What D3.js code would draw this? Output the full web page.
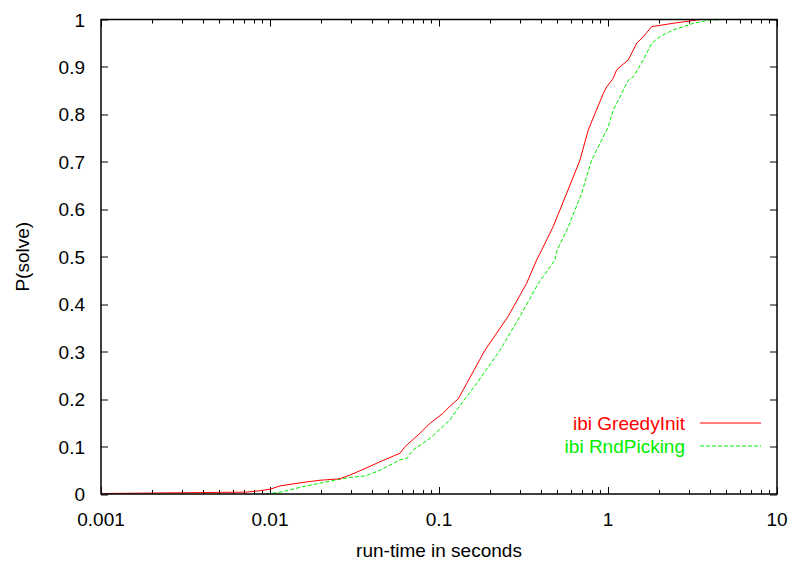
<!DOCTYPE html>
<html>
<head>
<meta charset="utf-8">
<script src="https://cdn.jsdelivr.net/npm/d3@7"></script>
<style>
  body { margin: 0; background: #fff; }
  text { font-family: "Liberation Sans", Arial, sans-serif; }
</style>
</head>
<body>
<div class="svg-container"></div>
<script>
// series data (run-time in seconds, P(solve))
const greedyTime = [0.001, 0.00386, 0.00731, 0.00873, 0.01, 0.01146, 0.0161, 0.0198, 0.0259, 0.0297, 0.0341, 0.0448, 0.0588, 0.063, 0.0772, 0.0885, 0.1056, 0.116, 0.1296, 0.1459, 0.187, 0.256, 0.330, 0.378, 0.405, 0.473, 0.570, 0.683, 0.764, 0.838, 0.938, 0.982, 1.074, 1.125, 1.318, 1.479, 1.618, 1.815, 2.43, 3.35, 3.60];
const greedyP = [0.001, 0.003, 0.004, 0.007, 0.010, 0.017, 0.025, 0.029, 0.032, 0.040, 0.049, 0.068, 0.086, 0.100, 0.128, 0.149, 0.170, 0.185, 0.200, 0.233, 0.303, 0.374, 0.444, 0.493, 0.514, 0.563, 0.634, 0.704, 0.767, 0.802, 0.844, 0.858, 0.876, 0.894, 0.915, 0.950, 0.964, 0.985, 0.992, 0.999, 1.0];

const rndTime = [0.00955, 0.01194, 0.01506, 0.0198, 0.0297, 0.0365, 0.0448, 0.0513, 0.0588, 0.0644, 0.0702, 0.0885, 0.1014, 0.116, 0.1273, 0.167, 0.2296, 0.301, 0.387, 0.485, 0.50, 0.582, 0.699, 0.801, 1.004, 1.074, 1.151, 1.318, 1.413, 1.618, 1.815, 2.03, 2.43, 3.20, 4.02, 4.92];
const rndP = [0.0, 0.005, 0.014, 0.023, 0.035, 0.038, 0.050, 0.061, 0.072, 0.075, 0.093, 0.117, 0.137, 0.156, 0.177, 0.233, 0.303, 0.374, 0.444, 0.493, 0.514, 0.563, 0.634, 0.704, 0.774, 0.809, 0.830, 0.872, 0.879, 0.915, 0.950, 0.964, 0.978, 0.992, 0.999, 1.0];

const seriesNames = ['ibi GreedyInit', 'ibi RndPicking'];
const seriesColors = ['#ff0000', '#00ee00'];
const xTickValues = [0.001, 0.01, 0.1, 1, 10];
const xTickLabels = ['0.001', '0.01', '0.1', '1', '10'];
const yTickValues = [0, 0.1, 0.2, 0.3, 0.4, 0.5, 0.6, 0.7, 0.8, 0.9, 1];
const yTickLabels = ['0', '0.1', '0.2', '0.3', '0.4', '0.5', '0.6', '0.7', '0.8', '0.9', '1'];

const width = 792;
const height = 565;
const margin = { top: 19.5, right: 15, bottom: 71, left: 101 };
const plotW = width - margin.left - margin.right;
const plotH = height - margin.top - margin.bottom;

const svg = d3.select('.svg-container')
  .append('svg')
  .attr('width', width)
  .attr('height', height);

const g = svg.append('g')
  .attr('transform', `translate(${margin.left},${margin.top})`);

const x = d3.scaleLog().domain([0.001, 10]).range([0, plotW]);
const y = d3.scaleLinear().domain([0, 1]).range([plotH, 0]);

// minor ticks for log axis
const minorX = [];
[0.001, 0.01, 0.1, 1].forEach(d => {
  for (let k = 2; k <= 9; k++) minorX.push(d * k);
});

const majorLen = 7;
const minorLen = 4;

// inward ticks on all four sides
const tickG = g.append('g').attr('stroke', '#000').attr('stroke-width', 1);
xTickValues.forEach(v => {
  const px = Math.round(x(v)) + 0.5;
  tickG.append('line').attr('x1', px).attr('x2', px).attr('y1', plotH).attr('y2', plotH - majorLen);
  tickG.append('line').attr('x1', px).attr('x2', px).attr('y1', 0).attr('y2', majorLen);
});
minorX.forEach(v => {
  const px = Math.round(x(v)) + 0.5;
  tickG.append('line').attr('x1', px).attr('x2', px).attr('y1', plotH).attr('y2', plotH - minorLen);
  tickG.append('line').attr('x1', px).attr('x2', px).attr('y1', 0).attr('y2', minorLen);
});
yTickValues.forEach(v => {
  const py = Math.round(y(v)) + 0.5;
  tickG.append('line').attr('x1', 0).attr('x2', majorLen).attr('y1', py).attr('y2', py);
  tickG.append('line').attr('x1', plotW).attr('x2', plotW - majorLen).attr('y1', py).attr('y2', py);
});

// tick labels
g.selectAll('.xlabel')
  .data(xTickValues)
  .enter()
  .append('text')
  .attr('class', 'xlabel')
  .attr('x', d => x(d))
  .attr('y', plotH + 32)
  .attr('text-anchor', 'middle')
  .attr('font-size', 19)
  .text((d, i) => xTickLabels[i]);

g.selectAll('.ylabel')
  .data(yTickValues)
  .enter()
  .append('text')
  .attr('class', 'ylabel')
  .attr('x', -16)
  .attr('y', d => y(d) + 7)
  .attr('text-anchor', 'end')
  .attr('font-size', 19)
  .text((d, i) => yTickLabels[i]);

// curves
const line = d3.line()
  .x(d => x(d[0]))
  .y(d => y(d[1]));

const greedy = greedyTime.map((t, i) => [t, greedyP[i]]);
const rnd = rndTime.map((t, i) => [t, rndP[i]]);

g.append('path')
  .datum(rnd)
  .attr('fill', 'none')
  .attr('stroke', seriesColors[1])
  .attr('stroke-width', 1)
  .attr('stroke-dasharray', '4,2')
  .attr('d', line);

g.append('path')
  .datum(greedy)
  .attr('fill', 'none')
  .attr('stroke', seriesColors[0])
  .attr('stroke-width', 1)
  .attr('d', line);

// border
g.append('rect')
  .attr('x', 0)
  .attr('y', 0)
  .attr('width', plotW)
  .attr('height', plotH)
  .attr('fill', 'none')
  .attr('stroke', '#000')
  .attr('stroke-width', 1.5);

// legend
const legendTextX = 685;
const legendLineX1 = 700;
const legendLineX2 = 761;
const legendY = [423, 446];

seriesNames.forEach((name, i) => {
  svg.append('text')
    .attr('x', legendTextX)
    .attr('y', legendY[i] + 7)
    .attr('text-anchor', 'end')
    .attr('font-size', 19)
    .attr('fill', seriesColors[i])
    .text(name);
  svg.append('path')
    .attr('d', `M${legendLineX1},${legendY[i]}L${legendLineX2},${legendY[i]}`)
    .attr('fill', 'none')
    .attr('stroke', seriesColors[i])
    .attr('stroke-width', 1.2)
    .attr('stroke-dasharray', i === 1 ? '4,2' : 'none');
});

// axis titles
svg.append('text')
  .attr('x', margin.left + plotW / 2)
  .attr('y', 557)
  .attr('text-anchor', 'middle')
  .attr('font-size', 19)
  .text('run-time in seconds');

svg.append('text')
  .attr('transform', `translate(29,${margin.top + plotH / 2}) rotate(-90)`)
  .attr('text-anchor', 'middle')
  .attr('font-size', 19)
  .text('P(solve)');
</script>
</body>
</html>
